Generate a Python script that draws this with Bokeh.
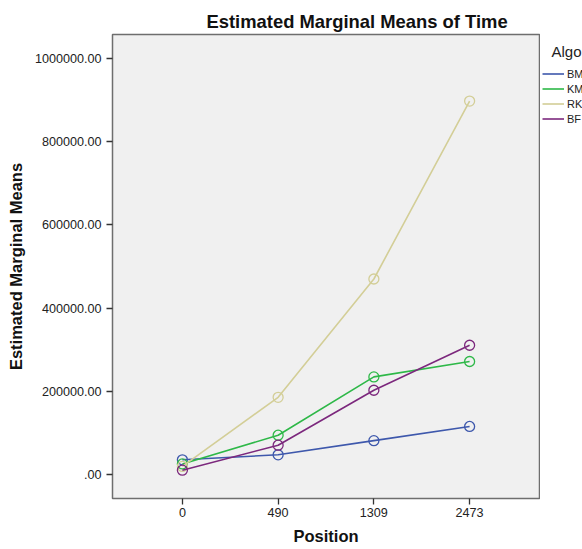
from bokeh.plotting import figure
from bokeh.layouts import row
from bokeh.models import FixedTicker, Legend, LegendItem, Label, Range1d, Title
from bokeh.embed import file_html
from bokeh.resources import INLINE

positions = ["0", "490", "1309", "2473"]
algorithms = ["BM", "KM", "RK", "BF"]
legend_title = "Algo"
bm = [36000, 48000, 82000, 116000]
kmp = [26000, 95000, 235000, 272000]
rk = [20000, 186000, 470000, 897000]
bf = [11000, 71000, 203000, 311000]
series = [bm, kmp, rk, bf]
colors = ["#3E58AC", "#2EB848", "#D3CE97", "#7C287D"]
yticks = [0, 200000, 400000, 600000, 800000, 1000000]
ytick_labels = [".00", "200000.00", "400000.00", "600000.00", "800000.00", "1000000.00"]

xs = list(range(len(positions)))
font = "Liberation Sans"

p = figure(width=540, height=549, output_backend="svg", toolbar_location=None,
           x_range=Range1d(-0.73, 3.73), y_range=Range1d(-56900, 1056900),
           min_border_left=112, min_border_right=1, min_border_top=34, min_border_bottom=51)
p.title = Title(text="Estimated Marginal Means of Time", align="left", offset=94,
                standoff=5, text_font=font, text_font_style="bold",
                text_font_size="18.4px", text_color="#111111")
p.background_fill_color = "#F0F0F0"
p.border_fill_color = "white"
p.outline_line_color = "#6E6E6E"
p.outline_line_width = 1.5
p.grid.visible = False

p.xaxis.ticker = FixedTicker(ticks=xs)
p.xaxis.major_label_overrides = {i: s for i, s in enumerate(positions)}
p.yaxis.ticker = FixedTicker(ticks=yticks)
p.yaxis.major_label_overrides = {t: s for t, s in zip(yticks, ytick_labels)}
for ax in (p.xaxis[0], p.yaxis[0]):
    ax.axis_line_color = None
    ax.major_tick_in = 0
    ax.major_tick_out = 6
    ax.major_tick_line_color = "#333333"
    ax.major_tick_line_width = 1.3
    ax.minor_tick_line_color = None
    ax.major_label_text_font = font
    ax.major_label_text_font_size = "12.6px"
    ax.major_label_text_color = "#222222"
    ax.axis_label_text_font = font
    ax.axis_label_text_font_style = "bold"
    ax.axis_label_text_font_size = "16.5px"
    ax.axis_label_text_color = "#111111"
p.xaxis.axis_label = "Position"
p.yaxis.axis_label = "Estimated Marginal Means"
p.xaxis.major_label_standoff = 3
p.xaxis.axis_label_standoff = 7
p.yaxis.major_label_standoff = 5
p.yaxis.axis_label_standoff = 7

for name, vals, c in zip(algorithms, series, colors):
    p.line(xs, vals, line_color=c, line_width=1.6)
    p.scatter(xs, vals, size=10, marker="circle", fill_color=None, line_color=c, line_width=1.3)

# legend panel on the right (its frame is aligned with the main frame: y 34..498)
q = figure(width=42, height=549, output_backend="svg", toolbar_location=None,
           x_range=Range1d(0, 42), y_range=Range1d(0, 464),
           x_axis_location=None, y_axis_location=None,
           min_border_left=0, min_border_right=0, min_border_top=34, min_border_bottom=51)
q.outline_line_color = None
q.background_fill_color = "white"
q.border_fill_color = "white"
q.grid.visible = False
items = []
for name, c in zip(algorithms, colors):
    r = q.line([float("nan")], [float("nan")], line_color=c, line_width=1.6)
    items.append(LegendItem(label=name, renderers=[r]))
legend = Legend(items=items, location=(2, 372), padding=0, margin=0,
                border_line_color=None, background_fill_alpha=0,
                glyph_width=22, glyph_height=15, label_height=15, spacing=0,
                label_standoff=3, label_text_font=font, label_text_font_size="11px",
                label_text_color="#222222")
q.add_layout(legend, "center")
q.add_layout(Label(x=11, y=447, x_units="screen", y_units="screen", text=legend_title,
                   text_font=font, text_font_size="15px", text_color="#222222",
                   text_baseline="middle"))

layout = row(p, q, spacing=0)
open("out.html", "w").write(file_html(layout, INLINE))
